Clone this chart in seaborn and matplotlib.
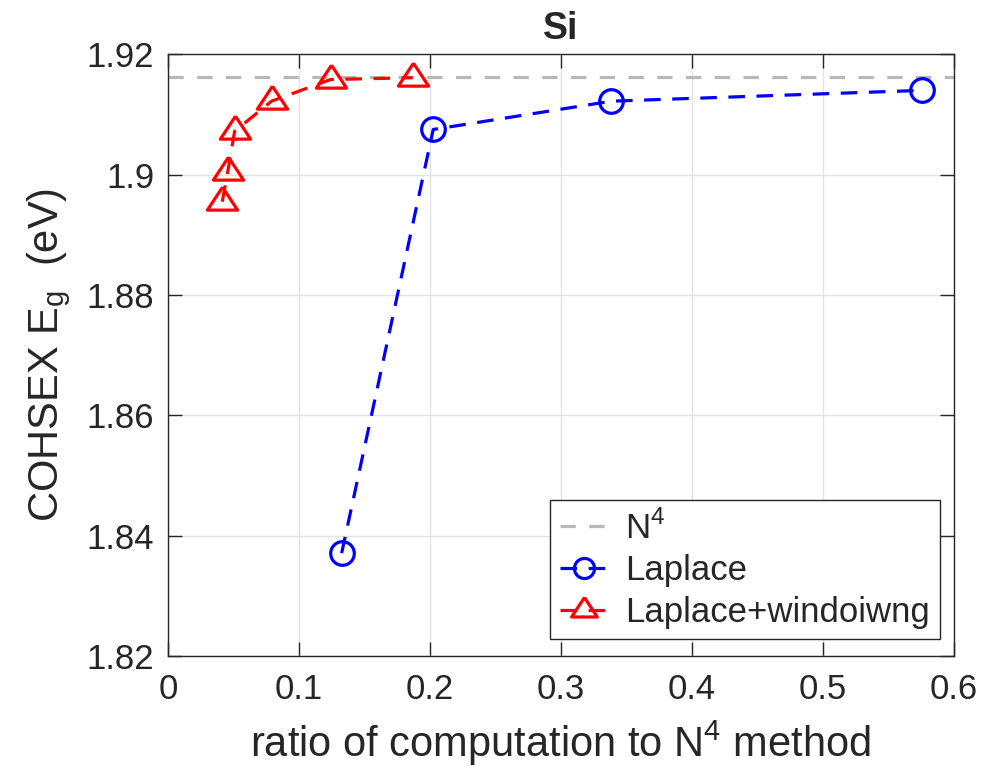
import matplotlib
matplotlib.use("Agg")
import matplotlib.pyplot as plt
import seaborn as sns
import pandas as pd
import numpy as np

# ---- data ----
laplace_ratio = [0.1326, 0.2025, 0.3385, 0.5756]
laplace_eg = [1.8371, 1.9075, 1.9122, 1.9140]

window_ratio = [0.0415, 0.0456, 0.0509, 0.0791, 0.1242, 0.1868]
window_eg = [1.8955, 1.9004, 1.9072, 1.9122, 1.9158, 1.9161]

n4_eg = 1.9162

x_ticks = [0, 0.1, 0.2, 0.3, 0.4, 0.5, 0.6]
x_tick_labels = ["0", "0.1", "0.2", "0.3", "0.4", "0.5", "0.6"]
y_ticks = [1.82, 1.84, 1.86, 1.88, 1.90, 1.92]
y_tick_labels = ["1.82", "1.84", "1.86", "1.88", "1.9", "1.92"]

series_labels = ["N$^\\mathregular{4}$", "Laplace", "Laplace+windoiwng"]
title_text = "Si"
x_label = "ratio of computation to N$^\\mathregular{4}$ method"
y_label = "COHSEX E$_\\mathregular{g}$  (eV)"

# ---- style ----
sns.set_style("white")
plt.rcParams["font.family"] = ["Liberation Sans", "DejaVu Sans"]
plt.rcParams["mathtext.fontset"] = "custom"
plt.rcParams["mathtext.rm"] = "Liberation Sans"

fig = plt.figure(figsize=(9.82, 7.75), dpi=100)
ax = fig.add_axes([0.171, 0.1535, 0.8005, 0.7765])

TICK_FS = 25
LABEL_FS = 30
LEG_FS = 25
TITLE_FS = 27
LW = 2.3
dash = (5.2, 3.6)

# N^4 reference line
ax.axhline(n4_eg, color=(0.72, 0.72, 0.72), lw=LW, dashes=(4.8, 4.2),
           label=series_labels[0], zorder=2)

df_lap = pd.DataFrame({"ratio": laplace_ratio, "eg": laplace_eg})
df_win = pd.DataFrame({"ratio": window_ratio, "eg": window_eg})

sns.lineplot(data=df_lap, x="ratio", y="eg", ax=ax, sort=False,
             color="blue", lw=LW, marker="o", markersize=17,
             markerfacecolor="none", markeredgecolor="blue",
             markeredgewidth=LW, label=series_labels[1], zorder=3)
ax.lines[-1].set_dashes(dash)

tri = [(0, 0.667), (-0.66, -0.333), (0.66, -0.333), (0, 0.667)]
sns.lineplot(data=df_win, x="ratio", y="eg", ax=ax, sort=False,
             color="red", lw=LW, marker=tri, markersize=22,
             markerfacecolor="none", markeredgecolor="red",
             markeredgewidth=LW, label=series_labels[2], zorder=3)
ax.lines[-1].set_dashes(dash)

ax.set_xlim(0, 0.6)
ax.set_ylim(1.82, 1.92)
ax.set_xticks(x_ticks)
ax.set_xticklabels(x_tick_labels)
ax.set_yticks(y_ticks)
ax.set_yticklabels(y_tick_labels)

ax.grid(True, color="#e3e3e3", lw=1.0)
ax.set_axisbelow(True)
for s in ax.spines.values():
    s.set_color("#262626")
    s.set_linewidth(1.0)
    s.set_visible(True)

ax.tick_params(axis="both", which="both", direction="in", length=10,
               width=1.0, color="#262626", labelsize=TICK_FS,
               labelcolor="#262626", top=True, right=True, bottom=True,
               left=True)
ax.tick_params(axis="x", pad=12)
ax.tick_params(axis="y", pad=10)

ax.set_xlabel(x_label, fontsize=LABEL_FS, color="#262626", labelpad=9)
ax.set_ylabel(y_label, fontsize=LABEL_FS, color="#262626", labelpad=10)
ax.set_title(title_text, fontsize=TITLE_FS, fontweight="bold", pad=11)

leg = ax.legend(loc="lower right", bbox_to_anchor=(0.982, 0.028),
                fontsize=LEG_FS, frameon=True, fancybox=False, framealpha=1,
                edgecolor="#262626", handlelength=1.35, handletextpad=0.5,
                borderpad=0.3, labelspacing=0.25, borderaxespad=0, numpoints=1)
leg.get_frame().set_linewidth(1.0)
for h in leg.get_lines():
    h.set_markersize(h.get_markersize() * 0.85)

fig.savefig("out.png", dpi=100)
